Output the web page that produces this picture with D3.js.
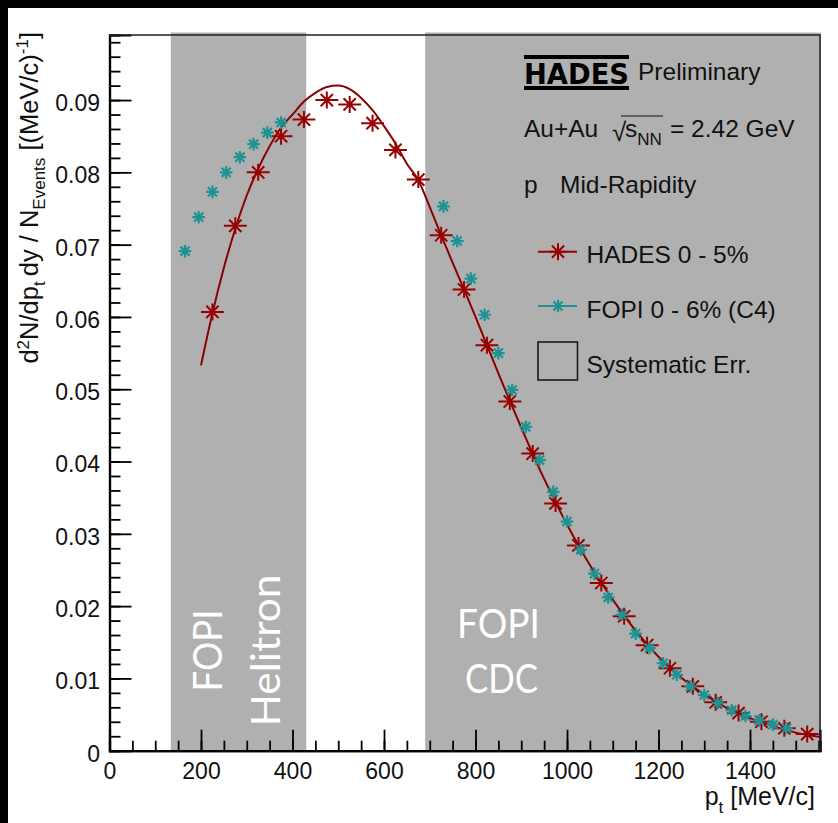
<!DOCTYPE html>
<html>
<head>
<meta charset="utf-8">
<script src="https://cdnjs.cloudflare.com/ajax/libs/d3/7.8.5/d3.min.js"></script>
<style>
  body { margin: 0; background: #000; }
  svg { display: block; font-family: "Liberation Sans", Arial, sans-serif; }
</style>
</head>
<body>
<div id="chart"></div>
<script>
// HADES 0-5% points (pt in MeV/c, yield per (MeV/c))
const hadesPt = [225, 275, 325, 375, 425, 475, 525, 575, 625, 675, 725, 775, 825, 875,
  925, 975, 1025, 1075, 1125, 1175, 1225, 1275, 1325, 1375, 1425, 1475, 1525];
const hadesYield = [0.0607, 0.0726, 0.0800, 0.0850, 0.0873, 0.0900, 0.0894, 0.0868, 0.0831,
  0.0790, 0.0713, 0.0638, 0.0561, 0.0483, 0.0411, 0.0342, 0.0284, 0.0232, 0.0186, 0.0146,
  0.0114, 0.0089, 0.0067, 0.0052, 0.0040, 0.0031, 0.0023];
const hadesBinHalf = 25;

// FOPI 0-6% (C4), Helitron + CDC
const fopiPt = [165, 195, 225, 255, 285, 315, 345, 375,
  730, 760, 790, 820, 850, 880, 910, 940, 970, 1000, 1030, 1060, 1090, 1120, 1150, 1180,
  1210, 1240, 1270, 1300, 1330, 1360, 1390, 1420, 1450, 1480];
const fopiYield = [0.0691, 0.0738, 0.0773, 0.0800, 0.0821, 0.0839, 0.0855, 0.0869,
  0.0753, 0.0705, 0.0653, 0.0603, 0.0550, 0.0499, 0.0448, 0.0402, 0.0358, 0.0317, 0.0278,
  0.0245, 0.0212, 0.0188, 0.0162, 0.0142, 0.0121, 0.0105, 0.0089, 0.0077, 0.0066, 0.0056,
  0.0048, 0.0042, 0.0036, 0.0031];

// fit curve
const fitPt = [200, 225, 250, 275, 300, 325, 350, 375, 400, 425, 450, 475, 500, 525, 550,
  575, 600, 625, 650, 675, 700, 725, 750, 775, 800, 850, 900, 950, 1000, 1050, 1100, 1150,
  1200, 1250, 1300, 1350, 1400, 1450, 1500, 1553];
const fitYield = [0.0533, 0.0605, 0.0668, 0.0722, 0.0768, 0.0805, 0.0836, 0.0862, 0.0880,
  0.0898, 0.0910, 0.0918, 0.0920, 0.0915, 0.0903, 0.0886, 0.0864, 0.0840, 0.0812, 0.0789,
  0.0752, 0.0713, 0.0675, 0.0638, 0.0600, 0.0522, 0.0447, 0.0376, 0.0313, 0.0257, 0.0209,
  0.0166, 0.0130, 0.0101, 0.0078, 0.0059, 0.0045, 0.0034, 0.0025, 0.0019];

// detector acceptance bands
const bandStart = [134, 690];
const bandEnd = [430, 1600];

const xTicks = [0, 200, 400, 600, 800, 1000, 1200, 1400];
const yTicks = [0, 0.01, 0.02, 0.03, 0.04, 0.05, 0.06, 0.07, 0.08, 0.09];

const W = 838, H = 823;
const margin = { top: 35, right: 18, bottom: 72.3, left: 109.5 };
const width = W - margin.left - margin.right;
const height = H - margin.top - margin.bottom;

const HADES_RED = "#9a0000";
const FIT_RED = "#8b0000";
const FOPI_TEAL = "#1f9393";
const BAND_GRAY = "#b0b0b0";

const svg = d3.select("#chart").append("svg").attr("width", W).attr("height", H);
svg.append("rect").attr("width", W).attr("height", H).attr("fill", "#000");
svg.append("rect").attr("x", 8).attr("y", 8).attr("width", W - 8).attr("height", H - 8).attr("fill", "#fff");

const g = svg.append("g").attr("transform", `translate(${margin.left}, ${margin.top})`);

const x = d3.scaleLinear().domain([0, 1553]).range([0, width]);
const y = d3.scaleLinear().domain([0, 0.099]).range([height, 0]);

// gray bands
g.selectAll(".band")
  .data(bandStart)
  .join("rect")
  .attr("class", "band")
  .attr("x", (d) => x(d))
  .attr("y", -2.5)
  .attr("width", (d, i) => Math.min(x(bandEnd[i]), width + 1) - x(d))
  .attr("height", height + 2.5)
  .attr("fill", BAND_GRAY);

// band labels
const bandFont = "Lato, 'Open Sans', sans-serif";
svg.append("text")
  .attr("transform", "translate(221.5, 691.5) rotate(-90)")
  .attr("font-family", bandFont).attr("font-size", 41).attr("fill", "#fff")
  .attr("textLength", 82).attr("lengthAdjust", "spacingAndGlyphs")
  .text("FOPI");
svg.append("text")
  .attr("transform", "translate(280, 726.5) rotate(-90)")
  .attr("font-family", bandFont).attr("font-size", 41).attr("fill", "#fff")
  .attr("textLength", 152).attr("lengthAdjust", "spacingAndGlyphs")
  .text("Helitron");
svg.append("text")
  .attr("x", 498.5).attr("y", 637.5).attr("text-anchor", "middle")
  .attr("font-family", bandFont).attr("font-size", 41).attr("fill", "#fff")
  .attr("textLength", 83).attr("lengthAdjust", "spacingAndGlyphs")
  .text("FOPI");
svg.append("text")
  .attr("x", 501.5).attr("y", 693).attr("text-anchor", "middle")
  .attr("font-family", bandFont).attr("font-size", 41).attr("fill", "#fff")
  .attr("textLength", 73).attr("lengthAdjust", "spacingAndGlyphs")
  .text("CDC");

// clip to frame
g.append("clipPath").attr("id", "plotclip")
  .append("rect").attr("width", width).attr("height", height);
const plot = g.append("g").attr("clip-path", "url(#plotclip)");

// fit line
const fitData = fitPt.map((p, i) => ({ pt: p, v: fitYield[i] }));
const line = d3.line()
  .x((d) => x(d.pt))
  .y((d) => y(d.v))
  .curve(d3.curveMonotoneX);
plot.append("path")
  .datum(fitData)
  .attr("fill", "none")
  .attr("stroke", FIT_RED)
  .attr("stroke-width", 2)
  .attr("d", line);

// asterisk marker path (ROOT style 3)
const asterisk = (r, dx) => {
  const d = r * 0.72;
  return `M${-dx},0H${dx}M0,${-r}V${r}M${-d},${-d}L${d},${d}M${-d},${d}L${d},${-d}`;
};

const hadesData = hadesPt.map((p, i) => ({ pt: p, v: hadesYield[i] }));
const fopiData = fopiPt.map((p, i) => ({ pt: p, v: fopiYield[i] }));

plot.selectAll(".hades")
  .data(hadesData)
  .join("path")
  .attr("class", "hades")
  .attr("transform", (d) => `translate(${x(d.pt)}, ${y(d.v)})`)
  .attr("d", (d) => asterisk(8.5, x(d.pt + hadesBinHalf) - x(d.pt)))
  .attr("fill", "none")
  .attr("stroke", HADES_RED)
  .attr("stroke-width", 2);

plot.selectAll(".fopi")
  .data(fopiData)
  .join("path")
  .attr("class", "fopi")
  .attr("transform", (d) => `translate(${x(d.pt)}, ${y(d.v)})`)
  .attr("d", asterisk(6.3, 6.3))
  .attr("fill", "none")
  .attr("stroke", FOPI_TEAL)
  .attr("stroke-width", 2.2);

// axes
const tickFont = 23;
const yAxisMajor = g.append("g")
  .call(d3.axisLeft(y).tickValues(yTicks).tickSize(-22).tickPadding(9.5)
    .tickFormat((d) => (d === 0 ? "0" : d.toFixed(2))));
const yAxisMinor = g.append("g")
  .call(d3.axisLeft(y).tickValues(d3.range(0, 0.0991, 0.002)).tickSize(-11).tickFormat(""));
const xAxisMajor = g.append("g")
  .attr("transform", `translate(0, ${height})`)
  .call(d3.axisBottom(x).tickValues(xTicks).tickSize(-21).tickPadding(12)
    .tickFormat(d3.format("d")));
const xAxisMinor = g.append("g")
  .attr("transform", `translate(0, ${height})`)
  .call(d3.axisBottom(x).tickValues(d3.range(0, 1551, 50)).tickSize(-10).tickFormat(""));

[yAxisMajor, yAxisMinor, xAxisMajor, xAxisMinor].forEach((ax) => {
  ax.selectAll(".domain").attr("stroke", "#000").attr("stroke-width", 2.2);
  ax.selectAll(".tick line").attr("stroke", "#000").attr("stroke-width", 1.8);
  ax.selectAll("text")
    .attr("font-family", "'Liberation Sans', Arial, sans-serif")
    .attr("font-size", tickFont)
    .attr("fill", "#111");
});
yAxisMajor.selectAll("text").attr("dy", "0.45em");
xAxisMajor.selectAll("text").attr("y", 28).attr("dy", 0);

// frame top and right
g.append("path")
  .attr("d", `M0,0H${width}V${height}`)
  .attr("fill", "none")
  .attr("stroke", "#222")
  .attr("stroke-width", 1.5);

// axis titles
const yTitle = svg.append("text")
  .attr("transform", "translate(37.5, 32) rotate(-90)")
  .attr("text-anchor", "end")
  .attr("font-size", 25.5)
  .attr("fill", "#111");
yTitle.append("tspan").text("d");
yTitle.append("tspan").attr("font-size", 17).attr("dy", -9).text("2");
yTitle.append("tspan").attr("dy", 9).text("N/dp");
yTitle.append("tspan").attr("font-size", 17).attr("dy", 7).text("t");
yTitle.append("tspan").attr("dy", -7).text("\u2009dy / N");
yTitle.append("tspan").attr("font-size", 17).attr("dy", 7).text("Events");
yTitle.append("tspan").attr("dy", -7).text(" [(MeV/c)");
yTitle.append("tspan").attr("font-size", 17).attr("dy", -10).text("-1");
yTitle.append("tspan").attr("dy", 10).text("]");

const xTitle = svg.append("text")
  .attr("x", 815).attr("y", 805)
  .attr("text-anchor", "end")
  .attr("font-size", 25)
  .attr("fill", "#111");
xTitle.append("tspan").text("p");
xTitle.append("tspan").attr("font-size", 17).attr("dy", 8).text("t");
xTitle.append("tspan").attr("dy", -8).text(" [MeV/c]");

// HADES logo + info texts
const info = svg.append("g").attr("fill", "#111");
info.append("rect").attr("x", 524).attr("y", 55).attr("width", 105).attr("height", 4).attr("fill", "#000");
info.append("rect").attr("x", 524).attr("y", 86).attr("width", 105).attr("height", 4).attr("fill", "#000");
info.append("text")
  .attr("x", 524).attr("y", 83.5)
  .attr("font-family", "'DejaVu Sans', sans-serif")
  .attr("font-weight", "bold")
  .attr("font-size", 29)
  .attr("textLength", 105).attr("lengthAdjust", "spacingAndGlyphs")
  .attr("fill", "#000")
  .text("HADES");
info.append("text").attr("x", 638).attr("y", 80).attr("font-size", 24.5).text("Preliminary");

info.append("text").attr("x", 524).attr("y", 136.5).attr("font-size", 24.5).text("Au+Au");
info.append("text").attr("x", 612).attr("y", 141).attr("font-size", 26).attr("font-weight", 300).text("\u221A");
info.append("line").attr("x1", 621).attr("x2", 663).attr("y1", 116).attr("y2", 116)
  .attr("stroke", "#111").attr("stroke-width", 1.2);
const sNN = info.append("text").attr("x", 625).attr("y", 136.5).attr("font-size", 24.5);
sNN.append("tspan").text("s");
sNN.append("tspan").attr("font-size", 17).attr("dy", 8).text("NN");
info.append("text").attr("x", 670).attr("y", 136.5).attr("font-size", 24.5).text("= 2.42 GeV");

info.append("text").attr("x", 524).attr("y", 193).attr("font-size", 24.5).text("p");
info.append("text").attr("x", 560).attr("y", 193).attr("font-size", 24.5).text("Mid-Rapidity");

// legend
const legendItems = ["HADES 0 - 5%", "FOPI 0 - 6% (C4)", "Systematic Err."];
const legendY = [251.7, 306, 361];
const legend = svg.append("g");
legend.append("line").attr("x1", 538).attr("x2", 577).attr("y1", legendY[0]).attr("y2", legendY[0])
  .attr("stroke", HADES_RED).attr("stroke-width", 2);
legend.append("path").attr("transform", `translate(558, ${legendY[0]})`)
  .attr("d", asterisk(8.5, 8.5)).attr("fill", "none").attr("stroke", HADES_RED).attr("stroke-width", 2);
legend.append("line").attr("x1", 538).attr("x2", 577).attr("y1", legendY[1]).attr("y2", legendY[1])
  .attr("stroke", FOPI_TEAL).attr("stroke-width", 2);
legend.append("path").attr("transform", `translate(558, ${legendY[1]})`)
  .attr("d", asterisk(6.3, 6.3)).attr("fill", "none").attr("stroke", FOPI_TEAL).attr("stroke-width", 2.2);
legend.append("rect").attr("x", 538).attr("y", 342).attr("width", 39.5).attr("height", 38)
  .attr("fill", "none").attr("stroke", "#111").attr("stroke-width", 1.5);
legend.selectAll(".legtext")
  .data(legendItems)
  .join("text")
  .attr("class", "legtext")
  .attr("x", 586.5)
  .attr("y", (d, i) => legendY[i] + 11.5)
  .attr("font-size", 24.5)
  .attr("fill", "#111")
  .text((d) => d);
</script>
</body>
</html>
